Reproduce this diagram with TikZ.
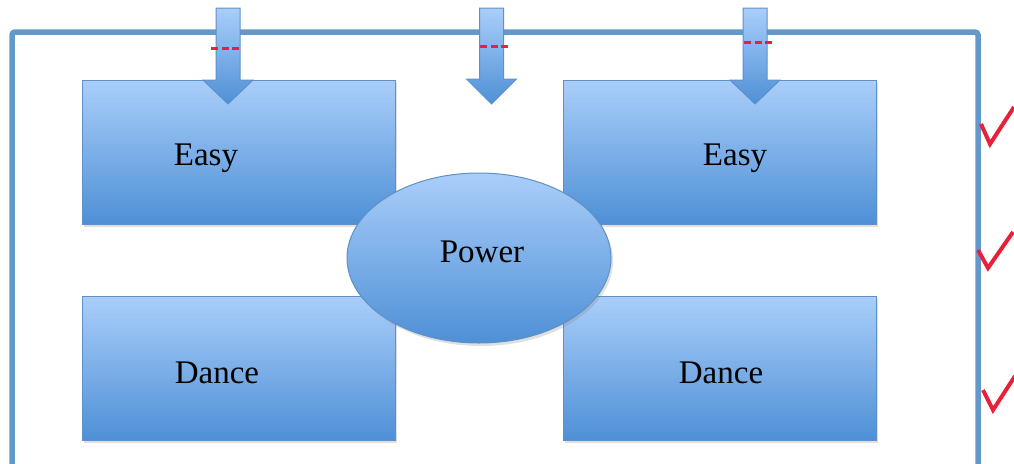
\documentclass[tikz,border=0pt]{standalone}
\usepackage{fontspec}
\setmainfont{Liberation Serif}
\usetikzlibrary{shadows,shapes.geometric}
\definecolor{lightblue}{RGB}{170,206,250}
\definecolor{darkblue}{RGB}{78,144,214}
\definecolor{edgeblue}{RGB}{95,145,200}
\definecolor{frameblue}{RGB}{101,152,202}
\definecolor{checkred}{RGB}{232,32,58}
\tikzset{
  box/.style={draw=edgeblue, line width=1pt, top color=lightblue, bottom color=darkblue,
    minimum width=313pt, minimum height=144pt, inner sep=0pt,
    drop shadow={opacity=0.25, shadow xshift=2pt, shadow yshift=-3pt}},
  oval/.style={ellipse, draw=edgeblue, line width=1pt, top color=lightblue, bottom color=darkblue,
    minimum width=264pt, minimum height=170pt, inner sep=0pt,
    drop shadow={opacity=0.25, shadow xshift=2pt, shadow yshift=-3pt}},
  lbl/.style={font=\fontsize{33}{37}\selectfont, text=black},
  downarrow/.style={draw=edgeblue, line width=1pt, top color=lightblue, bottom color=darkblue},
  reddash/.style={draw=checkred, line width=3pt, dash pattern=on 7pt off 3.5pt},
  tick/.style={draw=checkred, line width=4pt, line join=miter},
  frame/.style={draw=frameblue, line width=5.5pt, rounded corners=3pt}
}
\begin{document}
\begin{tikzpicture}[x=1pt,y=-1pt]
\useasboundingbox (0,0) rectangle (1014,463);
% frame
\draw[frame] (12,490) -- (12,32) -- (978,32) -- (978,490);
% boxes
\node[box] (e1) at (238.5,152) {};
\node[box] (e2) at (719.5,152) {};
\node[box] (d1) at (238.5,368) {};
\node[box] (d2) at (719.5,368) {};
\node[lbl] (te1) at (206,158) {Easy};
\node[lbl] (te2) at (735,158) {Easy};
\node[lbl] (td1) at (217,373) {Dance};
\node[lbl] (td2) at (721,373) {Dance};
% ellipse
\node[oval] (p) at (479,258) {};
\node[lbl] (tp) at (482,252) {Power};
% arrows
\foreach \cx/\hy in {228/80, 491.5/79, 755/80}{
  \path[downarrow] (\cx-12,8) -- (\cx+12,8) -- (\cx+12,\hy) -- (\cx+25,\hy) -- (\cx,104) -- (\cx-25,\hy) -- (\cx-12,\hy) -- cycle;
}
% red dashes
\draw[reddash] (211,48) -- (242,48);
\draw[reddash] (480,46) -- (511,46);
\draw[reddash] (744,42.5) -- (775,42.5);
% checks
\draw[tick] (981,124) -- (990,144) -- (1014,107);
\draw[tick] (978,250) -- (988,268) -- (1013,232);
\draw[tick] (983,390) -- (993,410) -- (1015,376);
\end{tikzpicture}
\end{document}
